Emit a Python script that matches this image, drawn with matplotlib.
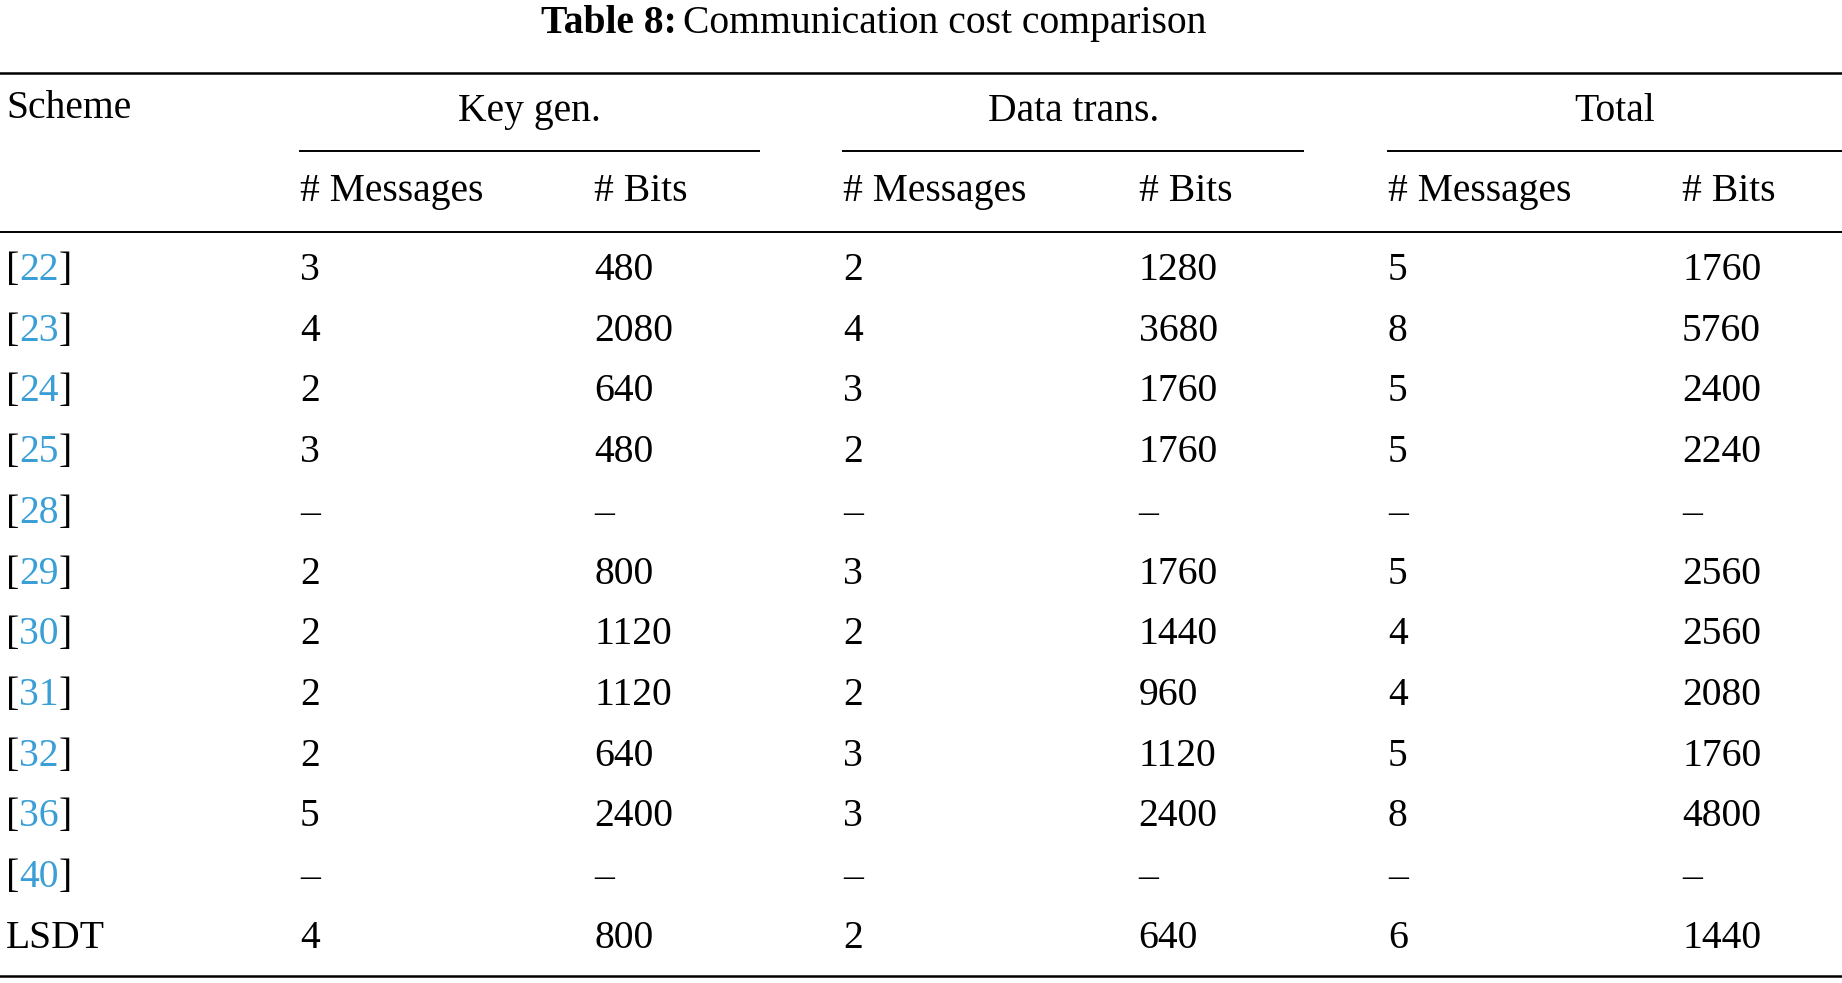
import matplotlib
matplotlib.use("Agg")
import matplotlib.pyplot as plt

plt.rcParams['font.family'] = ['Liberation Serif', 'DejaVu Serif']

schemes = ["22", "23", "24", "25", "28", "29", "30", "31", "32", "36", "40", "LSDT"]
key_msg = ["3", "4", "2", "3", "–", "2", "2", "2", "2", "5", "–", "4"]
key_bits = ["480", "2080", "640", "480", "–", "800", "1120", "1120", "640", "2400", "–", "800"]
data_msg = ["2", "4", "3", "2", "–", "3", "2", "2", "3", "3", "–", "2"]
data_bits = ["1280", "3680", "1760", "1760", "–", "1760", "1440", "960", "1120", "2400", "–", "640"]
tot_msg = ["5", "8", "5", "5", "–", "5", "4", "4", "5", "8", "–", "6"]
tot_bits = ["1760", "5760", "2400", "2240", "–", "2560", "2560", "2080", "1760", "4800", "–", "1440"]

W, H = 1842, 983
S = 1842 / 1566  # layout measured on a 1566-wide view
fig = plt.figure(figsize=(W / 100, H / 100), dpi=100)
ax = fig.add_axes([0, 0, 1, 1])
ax.set_xlim(0, W / S)
ax.set_ylim(H / S, 0)
ax.axis("off")

fs = 28.5
blue = "#3a9fd6"
cols = [5, 255, 505, 717, 968, 1180, 1430]

# title
ax.text(575, 20, "Table 8:", fontsize=fs, fontweight="bold", ha="right", va="center")
ax.text(581, 20, "Communication cost comparison", fontsize=fs, ha="left", va="center")

# rules
ax.plot([0, 1566], [62, 62], color="black", lw=1.8)
ax.plot([0, 1566], [197, 197], color="black", lw=1.4)
ax.plot([0, 1566], [830, 830], color="black", lw=1.8)
for x0, x1, lab in [(255, 645, "Key gen."), (717, 1108, "Data trans."), (1180, 1566, "Total")]:
    ax.plot([x0, x1], [128, 128], color="black", lw=1.4)
    ax.text((x0 + x1) / 2, 95, lab, fontsize=fs, ha="center", va="center")

ax.text(cols[0], 92, "Scheme", fontsize=fs, ha="left", va="center")
for i in range(3):
    ax.text(cols[1 + 2 * i], 163, "# Messages", fontsize=fs, ha="left", va="center")
    ax.text(cols[2 + 2 * i], 163, "# Bits", fontsize=fs, ha="left", va="center")

fig.canvas.draw()
r = fig.canvas.get_renderer()
inv = ax.transData.inverted()

def width(t):
    bb = t.get_window_extent(renderer=r)
    a = inv.transform((bb.x0, 0))[0]
    b = inv.transform((bb.x1, 0))[0]
    return b - a

row_y = [230 + i * 51.6 for i in range(len(schemes))]
for i, y in enumerate(row_y):
    s = schemes[i]
    if s.isdigit():
        t1 = ax.text(cols[0], y, "[", fontsize=fs, ha="left", va="center")
        x = cols[0] + width(t1)
        t2 = ax.text(x, y, s, fontsize=fs, ha="left", va="center", color=blue)
        x += width(t2)
        ax.text(x, y, "]", fontsize=fs, ha="left", va="center")
    else:
        ax.text(cols[0], y, s, fontsize=fs, ha="left", va="center")
    for c, arr in zip(cols[1:], [key_msg, key_bits, data_msg, data_bits, tot_msg, tot_bits]):
        ax.text(c, y, arr[i], fontsize=fs, ha="left", va="center")

fig.savefig("out.png", dpi=100)
